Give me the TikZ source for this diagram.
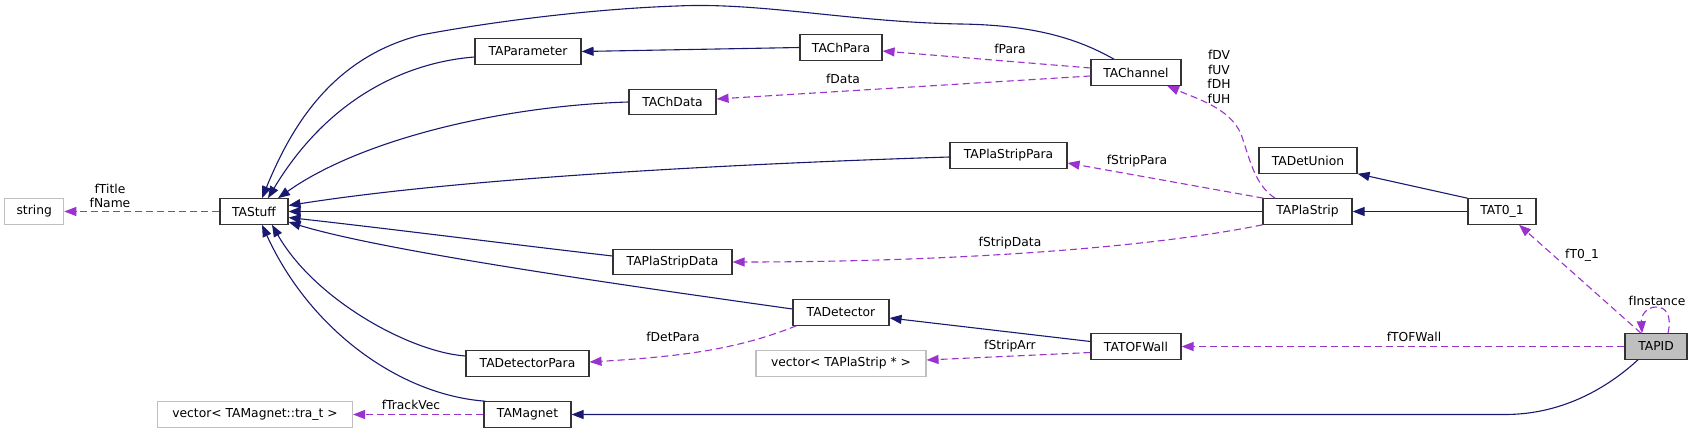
\documentclass[tikz,border=0pt]{standalone}
\usepackage{fontspec}
\setmainfont{DejaVu Sans}
\usetikzlibrary{arrows.meta}
\definecolor{inhblue}{HTML}{191970}
\definecolor{usepurple}{HTML}{9A32CD}
\definecolor{boxgray}{HTML}{BFBFBF}
\begin{document}
\begin{tikzpicture}[x=1pt,y=-1pt,
  every node/.style={font=\fontsize{12.3}{14.7}\selectfont},
  cls/.style={draw=black!80,line width=1.1pt,fill=white,minimum height=25.5pt,inner sep=0pt},
  ext/.style={cls,draw=boxgray},
  cur/.style={cls,fill=boxgray},
  inh/.style={draw=inhblue,line width=1.1pt,-{Triangle[length=12pt,width=9pt]}},
  use/.style={draw=usepurple,line width=1.1pt,dash pattern=on 7pt off 4pt,-{Triangle[length=12pt,width=9pt]}},
  lbl/.style={align=center,inner sep=0pt}]
\useasboundingbox (0,0) rectangle (1693,433);
% nodes
\node[ext,minimum width=59pt] (string) at (34.2,211.5) {string};
\node[cls,minimum width=68pt] (tastuff) at (254,211.5) {TAStuff};
\node[cls,minimum width=106pt] (taparameter) at (528,51.5) {TAParameter};
\node[cls,minimum width=82pt] (tachpara) at (841,47.5) {TAChPara};
\node[cls,minimum width=87pt] (tachdata) at (672.5,102) {TAChData};
\node[cls,minimum width=90pt] (tachannel) at (1136,72.5) {TAChannel};
\node[cls,minimum width=117pt] (taplastrippara) at (1008.5,155.5) {TAPlaStripPara};
\node[cls,minimum width=98pt] (tadetunion) at (1308,160.5) {TADetUnion};
\node[cls,minimum width=89pt] (taplastrip) at (1307.5,211.5) {TAPlaStrip};
\node[cls,minimum width=68pt] (tat01) at (1502,211.5) {TAT0\_1};
\node[cls,minimum width=119pt] (taplastripdata) at (672.5,262) {TAPlaStripData};
\node[cls,minimum width=96pt] (tadetector) at (841,312.5) {TADetector};
\node[cls,minimum width=90pt] (tatofwall) at (1136,346.5) {TATOFWall};
\node[cur,minimum width=62pt] (tapid) at (1656,346.5) {TAPID};
\node[cls,minimum width=123pt] (tadetectorpara) at (527.5,363.5) {TADetectorPara};
\node[ext,minimum width=170pt] (vecstrip) at (841,363.5) {vector< TAPlaStrip * >};
\node[cls,minimum width=87pt] (tamagnet) at (527.5,414.5) {TAMagnet};
\node[ext,minimum width=195pt] (vecmag) at (255,414.5) {vector< TAMagnet::tra\_t >};
% inheritance
\draw[inh] ([xshift=-22pt]tachannel.north) .. controls (1075,37) and (1030,25) .. (960,24)
  .. controls (850,22) and (760,2) .. (677,6)
  .. controls (590,9) and (490,22) .. (421,35)
  .. controls (330,58) and (290,130) .. ([xshift=8pt]tastuff.north);
\draw[inh] ([yshift=-5.5pt]taparameter.west) .. controls (410,62) and (330,95) .. ([xshift=14pt]tastuff.north);
\draw[inh] (tachpara.west) -- (taparameter.east);
\draw[inh] (tachdata.west) .. controls (500,106) and (360,140) .. ([xshift=24pt]tastuff.north);
\draw[inh] ([yshift=-1.5pt]taplastrippara.west) .. controls (700,165) and (450,180) .. ([yshift=6pt]tastuff.east);
\draw[inh] (taplastrip.west) -- (tastuff.east);
\draw[inh] ([yshift=6pt]taplastripdata.west) .. controls (500,243) and (400,230) .. ([yshift=-6pt]tastuff.east);
\draw[inh] ([yshift=3.5pt]tadetector.west) .. controls (600,282) and (380,250) .. ([yshift=-10.5pt]tastuff.east);
\draw[inh] ([yshift=7.5pt]tadetectorpara.west) .. controls (410,352) and (315,300) .. ([xshift=18pt]tastuff.south);
\draw[inh] ([xshift=2pt]tamagnet.north west) .. controls (400,395) and (310,330) .. ([xshift=8pt]tastuff.south);
\draw[inh] ([yshift=5pt]tatofwall.west) -- ([yshift=-5.5pt]tadetector.east);
\draw[inh] (tat01.north west) -- (tadetunion.south east);
\draw[inh] (tat01.west) -- (taplastrip.east);
\draw[inh] ([xshift=-18pt]tapid.south) .. controls (1605,390) and (1560,414.5) .. (1505,414.5) -- (tamagnet.east);
% usage
\draw[use] (tastuff.west) -- (string.east);
\draw[use] ([yshift=4.5pt]tachannel.west) -- ([yshift=-3.5pt]tachpara.east);
\draw[use] ([yshift=-3.5pt]tachannel.west) -- ([yshift=3pt]tachdata.east);
\draw[use] ([xshift=-32.5pt]taplastrip.north) .. controls (1255,185) and (1250,160) .. (1243,140)
  .. controls (1235,110) and (1200,100) .. ([xshift=31pt]tachannel.south);
\draw[use] ([xshift=1pt]taplastrip.north west) -- ([yshift=-7.5pt]taplastrippara.east);
\draw[use] (taplastrip.south west) .. controls (1150,248) and (950,262) .. (taplastripdata.east);
\draw[use] ([xshift=4pt]tadetector.south west) .. controls (740,348) and (690,356) .. ([yshift=1.5pt]tadetectorpara.east);
\draw[use] ([yshift=-6pt]tatofwall.west) -- ([yshift=3.5pt]vecstrip.east);
\draw[use] (tapid.west) -- (tatofwall.east);
\draw[use] ([xshift=-15pt]tapid.north) -- ([xshift=17pt]tat01.south);
\draw[use] ([xshift=12pt]tapid.north) .. controls (1672,315) and (1666,307) .. (1656,307)
  .. controls (1646,307) and (1641,316) .. ([xshift=-14pt]tapid.north);
\draw[use] (tamagnet.west) -- (vecmag.east);
% labels
\node[lbl] (l1) at (110,196) {fTitle\\fName};
\node[lbl] (l2) at (1010,49) {fPara};
\node[lbl] (l3) at (843,79) {fData};
\node[lbl] (l4) at (1219,77) {fDV\\fUV\\fDH\\fUH};
\node[lbl] (l5) at (1137,161) {fStripPara};
\node[lbl] (l6) at (1010,243) {fStripData};
\node[lbl] (l7) at (673,337) {fDetPara};
\node[lbl] (l8) at (1010,346) {fStripArr};
\node[lbl] (l9) at (1414,337) {fTOFWall};
\node[lbl] (l10) at (1582,255) {fT0\_1};
\node[lbl] (l11) at (1657,301) {fInstance};
\node[lbl] (l12) at (411,405) {fTrackVec};
\end{tikzpicture}
\end{document}
